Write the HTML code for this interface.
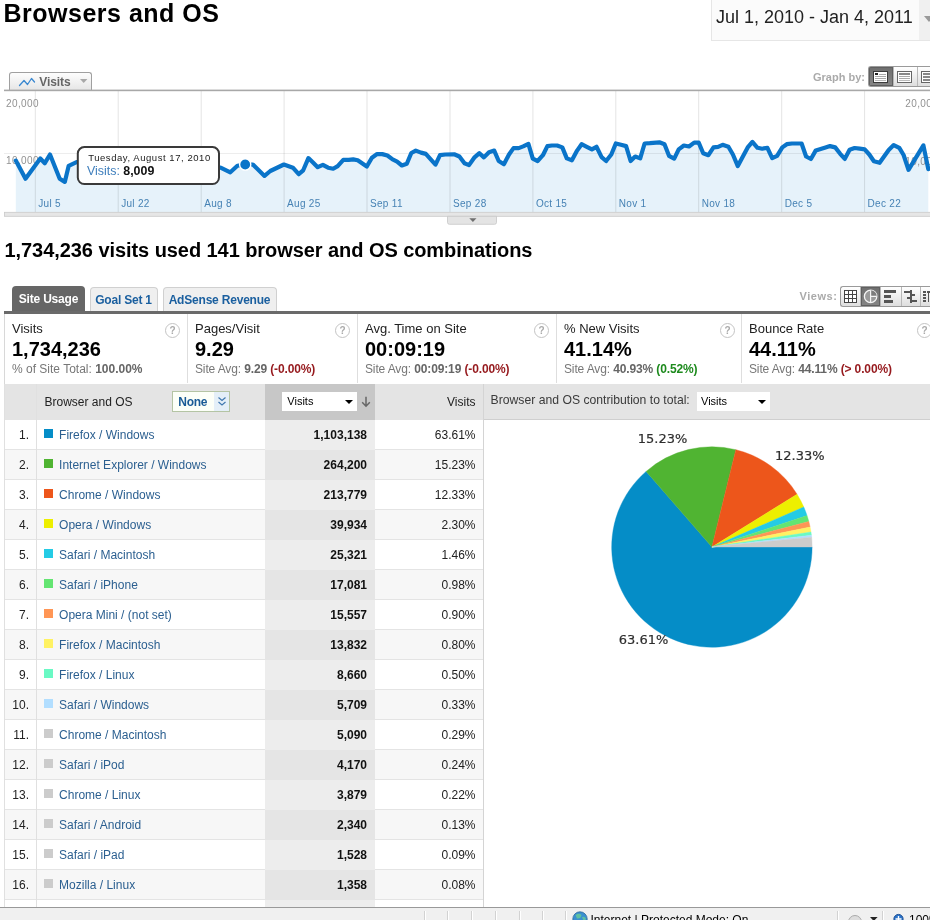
<!DOCTYPE html>
<html><head><meta charset="utf-8"><title>Browsers and OS</title>
<style>
html,body{margin:0;padding:0;background:#fff;}
body{width:930px;height:920px;position:relative;overflow:hidden;font-family:"Liberation Sans",Arial,sans-serif;color:#222;}
.abs{position:absolute;}
.t{position:absolute;white-space:nowrap;line-height:1;}
h1.t{margin:0;font-size:25px;font-weight:bold;color:#000;left:3.5px;top:0.5px;letter-spacing:0.5px;}
h2.t{margin:0;font-size:20px;font-weight:bold;color:#000;left:4.5px;top:239.5px;letter-spacing:-0.065px;}
.datebox{position:absolute;left:711px;top:-2px;width:230px;height:42.5px;background:#fbfbfb;border:1px solid #e6e6e6;box-sizing:border-box;}
.datebox .side{position:absolute;left:206.5px;top:0;width:30px;height:41px;background:#f0f0f0;}
.vtab{position:absolute;left:9px;top:72px;width:83px;height:18px;border:1px solid #a0a0a0;border-bottom:none;border-radius:3px 3px 0 0;box-sizing:border-box;background:linear-gradient(#fdfdfd,#e6e6e6);}
.tab{position:absolute;top:286.5px;height:25px;box-sizing:border-box;border-radius:4px 4px 0 0;font-size:12px;font-weight:bold;line-height:25px;text-align:center;white-space:nowrap;}
.tab.sel{left:12px;width:73px;background:#666;color:#fff;height:25.5px;top:286px;line-height:26px;letter-spacing:-0.2px;}
.tab.o{background:#efefef;border:1px solid #d0d0d0;border-bottom:none;color:#1a5f9f;line-height:24px;letter-spacing:-0.2px;}
.bar{position:absolute;left:4px;top:311px;width:930px;height:3px;background:#6a6a6a;}
.metrics{position:absolute;left:4px;top:314px;width:930px;height:70px;border-left:1px solid #d8d8d8;box-sizing:border-box;}
.m{position:absolute;top:0;height:69px;border-left:1px solid #dedede;}
.m .l{position:absolute;left:7px;top:8.4px;font-size:13px;line-height:14px;color:#222;white-space:nowrap;}
.m .b{position:absolute;left:7px;top:24px;font-size:20px;line-height:22px;font-weight:bold;color:#000;white-space:nowrap;}
.m .s{position:absolute;left:7px;top:48px;font-size:12px;line-height:14px;color:#777;white-space:nowrap;}
.m .s b{color:#666;}
.m .s .r{color:#961a1e;font-weight:bold;}
.m .s.n{letter-spacing:-0.13px;}
.m .s .g{color:#1d8a1d;font-weight:bold;}
.q{position:absolute;top:9px;width:13px;height:13px;border:1px solid #c4c4c4;border-radius:50%;box-sizing:content-box;font-size:10px;line-height:13px;text-align:center;color:#aaa;font-weight:bold;background:#fff;}
.th{position:absolute;top:383.5px;height:36px;background:#e4e4e4;}
.tr{position:absolute;left:4.5px;width:479px;height:30px;border-bottom:1px solid #e4e4e4;box-sizing:border-box;font-size:12px;line-height:30px;}
.tr.even{background:#f7f7f7;}
.tr .num{position:absolute;left:0;width:24.5px;text-align:right;color:#222;}
.tr .sq{position:absolute;left:39.5px;top:9.7px;width:9px;height:9px;}
.tr .nm{position:absolute;left:54.6px;color:#2b5f90;white-space:nowrap;}
.tr .sc{position:absolute;left:260.8px;top:0;width:109.7px;height:30px;background:#ededed;}
.tr.even .sc{background:#e5e5e5;}
.tr .v{position:absolute;right:116.5px;font-weight:bold;color:#111;}
.tr .p{position:absolute;right:8px;color:#222;}
.vl{position:absolute;width:1px;background:#e0e0e0;}
.status{position:absolute;left:0;top:906.5px;width:930px;height:14px;background:#f0f0f0;border-top:1px solid #999;}
.status i{position:absolute;top:3px;width:1px;height:12px;background:#d2d2d2;border-right:1px solid #fff;}
.sel2{position:absolute;background:#fff;font-size:11px;line-height:19px;color:#000;box-sizing:border-box;padding-left:5px;}
.sel2:after{content:"";position:absolute;right:4px;top:8px;border:4px solid transparent;border-top:4px solid #000;border-bottom:none;}
.btns{position:absolute;border:1px solid #9a9a9a;border-right:none;border-radius:3px 0 0 3px;box-sizing:border-box;overflow:hidden;background:linear-gradient(#fff,#dedede);}
.btns .b{position:absolute;top:0;height:100%;box-sizing:border-box;border-right:1px solid #b8b8b8;}
.btns .b.on{background:linear-gradient(#6e6e6e,#868686);box-shadow:inset 0 0 0 1px #606060;}
</style></head>
<body>
<h1 class="t">Browsers and OS</h1>
<div class="datebox"><div class="side"></div>
<span class="t" style="left:4px;top:9px;font-size:18px;color:#222;">Jul 1, 2010 - Jan 4, 2011</span>
<svg class="abs" style="left:212px;top:17px" width="10" height="8"><polygon points="0,0 10,0 5,6" fill="#999"/></svg>
</div>

<!-- graph by -->
<span class="t" style="left:813px;top:72px;font-size:11px;font-weight:bold;color:#aaa;">Graph by:</span>
<div class="btns" style="left:868px;top:66px;width:70px;height:21px;">
 <div class="b on" style="left:0;width:24.5px"></div><div class="b" style="left:24.5px;width:24.5px"></div><div class="b" style="left:49px;width:24px"></div>
 <svg class="abs" style="left:-1px;top:-1px" width="70" height="21" viewBox="868 66 70 21" shape-rendering="crispEdges">
  <rect x="873.5" y="71.5" width="14" height="11" fill="#fff" stroke="#3c3c3c" stroke-width="1"/>
  <rect x="875" y="73" width="3" height="2" fill="#222"/><rect x="879" y="74" width="7" height="1" fill="#aaa"/><rect x="875" y="76" width="11" height="1" fill="#aaa"/><rect x="875" y="78" width="11" height="1" fill="#aaa"/><rect x="875" y="80" width="11" height="1" fill="#bbb"/>
  <rect x="897.5" y="71.5" width="14" height="11" fill="#fff" stroke="#666" stroke-width="1"/>
  <rect x="899" y="73" width="11" height="2" fill="#888"/><rect x="899" y="76" width="11" height="1" fill="#aaa"/><rect x="899" y="78" width="11" height="1" fill="#aaa"/><rect x="899" y="80" width="11" height="1" fill="#bbb"/>
  <rect x="921.5" y="71.5" width="14" height="11" fill="#fff" stroke="#666" stroke-width="1"/>
  <rect x="923" y="73" width="11" height="2" fill="#888"/><rect x="923" y="76" width="11" height="2" fill="#888"/><rect x="923" y="79" width="11" height="2" fill="#888"/>
 </svg>
</div>

<!-- visits tab -->
<div class="vtab">
 <svg class="abs" style="left:8px;top:3px" width="18" height="12" viewBox="0 0 18 12"><polyline points="1.5,9.5 6,4.5 9.5,8.5 13.5,2.5 16.5,6" fill="none" stroke="#3a88d0" stroke-width="1.3" stroke-linejoin="round" stroke-linecap="round"/></svg>
 <span class="t" style="left:29.3px;top:3px;font-size:12px;font-weight:bold;color:#666;letter-spacing:-0.1px;">Visits</span>
 <svg class="abs" style="left:69.5px;top:5.8px" width="8" height="5"><polygon points="0,0 7.4,0 3.7,4" fill="#a8a8a8"/></svg>
</div>

<svg class="abs" style="left:0;top:0" width="930" height="240" viewBox="0 0 930 240">
<polygon points="15.8,212 15.8,160.6 25.5,178.7 40.3,158.5 44.8,163.2 50.0,154.5 59.7,178.7 64.8,181.9 68.7,165.8 77.1,161.9 82.0,160.5 87.0,161.5 92.0,173.0 97.0,176.0 102.0,166.0 107.0,161.0 112.0,159.5 117.0,160.5 122.0,162.0 126.0,174.0 131.0,177.0 136.0,166.0 141.0,162.0 146.0,160.0 151.0,161.0 156.0,163.0 160.0,174.0 165.0,177.0 170.0,167.0 175.0,163.0 180.0,161.0 185.0,160.0 190.0,162.0 195.0,173.0 200.0,176.0 205.0,168.0 210.0,165.0 215.0,166.0 220.6,167.7 230.3,172.3 237.4,165.8 245.2,164.5 252.9,164.5 264.5,175.9 270.3,171.0 283.9,164.5 292.9,167.7 298.7,174.2 303.2,170.3 308.4,158.1 313.0,162.5 317.7,167.2 322.9,164.8 328.1,167.7 333.2,168.7 337.7,166.1 343.3,159.9 348.7,159.9 353.2,159.4 357.7,160.3 366.8,166.5 371.9,157.7 377.1,154.1 382.3,154.1 387.4,155.5 392.6,159.4 397.1,161.6 401.9,165.5 406.8,163.8 411.3,153.0 415.8,150.6 421.0,152.6 425.8,153.9 435.5,164.6 440.0,155.2 445.2,154.5 454.2,154.3 459.4,156.5 464.5,163.3 469.0,165.1 474.2,157.7 479.4,153.2 483.9,157.4 489.0,152.2 494.2,150.6 498.7,161.0 503.9,164.2 509.0,154.5 513.5,148.1 518.7,148.1 523.2,146.4 528.4,143.9 532.8,158.7 537.6,161.0 542.9,155.2 547.4,146.1 551.9,145.5 557.1,145.5 562.3,147.4 566.8,158.4 571.9,160.3 577.1,150.6 581.6,144.2 586.8,146.8 591.9,149.4 596.5,146.8 601.6,157.1 606.1,161.0 611.3,154.5 615.8,143.5 621.0,144.8 626.1,146.1 630.6,161.0 635.2,156.5 640.2,158.4 644.6,143.5 649.8,143.2 659.4,142.3 664.5,144.2 669.0,155.8 674.2,158.6 678.7,149.4 683.9,145.5 689.0,146.5 694.2,142.6 698.7,142.6 703.2,153.2 708.4,155.2 713.5,147.4 718.1,146.8 722.6,144.8 728.4,146.8 732.9,154.5 737.8,166.1 742.6,157.1 747.7,147.4 752.4,141.9 757.5,147.8 762.3,148.7 767.4,147.8 772.2,158.1 777.1,155.8 782.3,147.4 786.8,144.2 791.9,143.5 801.6,143.5 806.1,156.5 810.9,159.0 815.8,150.4 825.5,147.4 830.0,146.1 835.2,147.4 840.2,153.8 844.8,158.9 849.6,149.7 854.6,148.0 859.7,148.6 864.7,149.3 869.3,154.5 873.9,161.3 879.6,162.8 888.7,150.0 893.7,145.1 899.3,147.9 903.6,155.0 908.5,169.8 923.4,145.4 928.3,169.1 928.3,212" fill="#e6f2fa"/>
<rect x="34.8" y="91" width="1" height="121" fill="#000" fill-opacity="0.11"/>
<rect x="117.7" y="91" width="1" height="121" fill="#000" fill-opacity="0.11"/>
<rect x="200.7" y="91" width="1" height="121" fill="#000" fill-opacity="0.11"/>
<rect x="283.6" y="91" width="1" height="121" fill="#000" fill-opacity="0.11"/>
<rect x="366.5" y="91" width="1" height="121" fill="#000" fill-opacity="0.11"/>
<rect x="449.5" y="91" width="1" height="121" fill="#000" fill-opacity="0.11"/>
<rect x="532.4" y="91" width="1" height="121" fill="#000" fill-opacity="0.11"/>
<rect x="615.3" y="91" width="1" height="121" fill="#000" fill-opacity="0.11"/>
<rect x="698.2" y="91" width="1" height="121" fill="#000" fill-opacity="0.11"/>
<rect x="781.2" y="91" width="1" height="121" fill="#000" fill-opacity="0.11"/>
<rect x="864.1" y="91" width="1" height="121" fill="#000" fill-opacity="0.11"/>
<rect x="4" y="153" width="926" height="1" fill="#000" fill-opacity="0.07"/>
<g font-family="Liberation Sans, Arial, sans-serif" font-size="10" fill="#929292" letter-spacing="0.38">
<text x="6" y="107">20,000</text><text x="6" y="164.3">10,000</text>
<text x="905.3" y="107">20,000</text><text x="905.3" y="164.5">10,000</text></g>
<g font-family="Liberation Sans, Arial, sans-serif" font-size="10" fill="#4682b4" letter-spacing="0.3">
<text x="38.3" y="206.8">Jul 5</text>
<text x="121.2" y="206.8">Jul 22</text>
<text x="204.2" y="206.8">Aug 8</text>
<text x="287.1" y="206.8">Aug 25</text>
<text x="370.0" y="206.8">Sep 11</text>
<text x="453.0" y="206.8">Sep 28</text>
<text x="535.9" y="206.8">Oct 15</text>
<text x="618.8" y="206.8">Nov 1</text>
<text x="701.7" y="206.8">Nov 18</text>
<text x="784.7" y="206.8">Dec 5</text>
<text x="867.6" y="206.8">Dec 22</text>
</g>
<polyline points="15.8,160.6 25.5,178.7 40.3,158.5 44.8,163.2 50.0,154.5 59.7,178.7 64.8,181.9 68.7,165.8 77.1,161.9 82.0,160.5 87.0,161.5 92.0,173.0 97.0,176.0 102.0,166.0 107.0,161.0 112.0,159.5 117.0,160.5 122.0,162.0 126.0,174.0 131.0,177.0 136.0,166.0 141.0,162.0 146.0,160.0 151.0,161.0 156.0,163.0 160.0,174.0 165.0,177.0 170.0,167.0 175.0,163.0 180.0,161.0 185.0,160.0 190.0,162.0 195.0,173.0 200.0,176.0 205.0,168.0 210.0,165.0 215.0,166.0 220.6,167.7 230.3,172.3 237.4,165.8 245.2,164.5 252.9,164.5 264.5,175.9 270.3,171.0 283.9,164.5 292.9,167.7 298.7,174.2 303.2,170.3 308.4,158.1 313.0,162.5 317.7,167.2 322.9,164.8 328.1,167.7 333.2,168.7 337.7,166.1 343.3,159.9 348.7,159.9 353.2,159.4 357.7,160.3 366.8,166.5 371.9,157.7 377.1,154.1 382.3,154.1 387.4,155.5 392.6,159.4 397.1,161.6 401.9,165.5 406.8,163.8 411.3,153.0 415.8,150.6 421.0,152.6 425.8,153.9 435.5,164.6 440.0,155.2 445.2,154.5 454.2,154.3 459.4,156.5 464.5,163.3 469.0,165.1 474.2,157.7 479.4,153.2 483.9,157.4 489.0,152.2 494.2,150.6 498.7,161.0 503.9,164.2 509.0,154.5 513.5,148.1 518.7,148.1 523.2,146.4 528.4,143.9 532.8,158.7 537.6,161.0 542.9,155.2 547.4,146.1 551.9,145.5 557.1,145.5 562.3,147.4 566.8,158.4 571.9,160.3 577.1,150.6 581.6,144.2 586.8,146.8 591.9,149.4 596.5,146.8 601.6,157.1 606.1,161.0 611.3,154.5 615.8,143.5 621.0,144.8 626.1,146.1 630.6,161.0 635.2,156.5 640.2,158.4 644.6,143.5 649.8,143.2 659.4,142.3 664.5,144.2 669.0,155.8 674.2,158.6 678.7,149.4 683.9,145.5 689.0,146.5 694.2,142.6 698.7,142.6 703.2,153.2 708.4,155.2 713.5,147.4 718.1,146.8 722.6,144.8 728.4,146.8 732.9,154.5 737.8,166.1 742.6,157.1 747.7,147.4 752.4,141.9 757.5,147.8 762.3,148.7 767.4,147.8 772.2,158.1 777.1,155.8 782.3,147.4 786.8,144.2 791.9,143.5 801.6,143.5 806.1,156.5 810.9,159.0 815.8,150.4 825.5,147.4 830.0,146.1 835.2,147.4 840.2,153.8 844.8,158.9 849.6,149.7 854.6,148.0 859.7,148.6 864.7,149.3 869.3,154.5 873.9,161.3 879.6,162.8 888.7,150.0 893.7,145.1 899.3,147.9 903.6,155.0 908.5,169.8 923.4,145.4 928.3,169.1" fill="none" stroke="#0a74c9" stroke-width="4.2" stroke-linejoin="round" stroke-linecap="round"/>
<circle cx="245.2" cy="164.5" r="5.6" fill="#0a74c9" stroke="#fff" stroke-width="1.4"/>
<rect x="4" y="89.6" width="926" height="1.6" fill="#a8a8a8"/>
<rect x="4.5" y="212.3" width="930" height="4" fill="#e6e6e6" stroke="#c9c9c9" stroke-width="0.8"/>
<path d="M447.5 216.3 V222.5 Q447.5 224.3 449.5 224.3 H494.5 Q496.5 224.3 496.5 222.5 V216.3 Z" fill="#e4e4e4" stroke="#c6c6c6" stroke-width="0.8"/>
<polygon points="469.3,218.2 476.5,218.2 472.9,222" fill="#707070"/>
<rect x="77.8" y="147.1" width="141.2" height="36.9" rx="6.5" ry="6.5" fill="#fff" stroke="#3a3a3a" stroke-width="2"/>
<text x="88.2" y="160.9" font-family="Liberation Sans, Arial, sans-serif" font-size="9.5" fill="#222" letter-spacing="0.55">Tuesday, August 17, 2010</text>
<text x="87" y="175.3" font-family="Liberation Sans, Arial, sans-serif" font-size="12.4" fill="#3f7fbd">Visits: <tspan fill="#111" font-weight="bold">8,009</tspan></text>
</svg>

<h2 class="t">1,734,236 visits used 141 browser and OS combinations</h2>

<div class="tab sel">Site Usage</div>
<div class="tab o" style="left:89.5px;width:68px;">Goal Set 1</div>
<div class="tab o" style="left:162.5px;width:114px;">AdSense Revenue</div>
<div class="bar"></div>

<span class="t" style="left:799.5px;top:291px;font-size:11px;font-weight:bold;color:#aaa;letter-spacing:0.55px;">Views:</span>
<div class="btns" style="left:840px;top:286px;width:96px;height:21px;">
 <div class="b" style="left:0;width:20px"></div><div class="b on" style="left:20px;width:20px"></div><div class="b" style="left:40px;width:20.5px"></div><div class="b" style="left:60.5px;width:19.5px"></div>
 <svg class="abs" style="left:-1px;top:-1px" width="96" height="21" viewBox="840 286 96 21">
  <g fill="#444" shape-rendering="crispEdges"><rect x="844" y="290" width="13" height="1"/><rect x="844" y="294" width="13" height="1"/><rect x="844" y="298" width="13" height="1"/><rect x="844" y="302" width="13" height="1"/><rect x="844" y="290" width="1" height="13"/><rect x="848" y="290" width="1" height="13"/><rect x="852" y="290" width="1" height="13"/><rect x="856" y="290" width="1" height="13"/></g>
  <g fill="#fff" shape-rendering="crispEdges"><rect x="845" y="291" width="3" height="3"/><rect x="849" y="291" width="3" height="3"/><rect x="853" y="291" width="3" height="3"/><rect x="845" y="295" width="3" height="3"/><rect x="849" y="295" width="3" height="3"/><rect x="853" y="295" width="3" height="3"/><rect x="845" y="299" width="3" height="3"/><rect x="849" y="299" width="3" height="3"/><rect x="853" y="299" width="3" height="3"/></g>
  <circle cx="870.6" cy="296.4" r="6.2" fill="#9a9a9a" stroke="#f4f4f4" stroke-width="1.3"/><path d="M870.6 296.4V290.2A6.2 6.2 0 0 1 876.8 296.4Z" fill="#7c7c7c"/><path d="M870.6 290.2V302.6M870.6 296.4H876.8" stroke="#f4f4f4" stroke-width="1.2" fill="none"/>
  <g fill="#555" shape-rendering="crispEdges"><rect x="884" y="290" width="12" height="3"/><rect x="884" y="295" width="7" height="3"/><rect x="884" y="300" width="9" height="3"/></g>
  <g fill="#555" shape-rendering="crispEdges"><rect x="904" y="291" width="7" height="2"/><rect x="910" y="290" width="2" height="13"/><rect x="911" y="294" width="4" height="2"/><rect x="907" y="297" width="4" height="2"/><rect x="911" y="300" width="6" height="2"/></g>
  <g fill="#555" shape-rendering="crispEdges"><rect x="923" y="291" width="3" height="2"/><rect x="923" y="294" width="3" height="2"/><rect x="923" y="297" width="3" height="2"/><rect x="923" y="300" width="3" height="2"/><rect x="927" y="291" width="4" height="2"/><rect x="928" y="293" width="1" height="9"/></g>
 </svg>
</div>

<div class="metrics">
 <div class="m" style="left:0;width:183px;border-left:none"><span class="l">Visits</span><span class="b">1,734,236</span><span class="s">% of Site Total: <b>100.00%</b></span><span class="q" style="left:160px">?</span></div>
 <div class="m" style="left:182px;width:170px"><span class="l">Pages/Visit</span><span class="b">9.29</span><span class="s n">Site Avg: <b>9.29</b> <span class="r">(-0.00%)</span></span><span class="q" style="left:147px">?</span></div>
 <div class="m" style="left:352px;width:198.5px"><span class="l">Avg. Time on Site</span><span class="b">00:09:19</span><span class="s n">Site Avg: <b>00:09:19</b> <span class="r">(-0.00%)</span></span><span class="q" style="left:176px">?</span></div>
 <div class="m" style="left:551px;width:185.5px"><span class="l">% New Visits</span><span class="b">41.14%</span><span class="s n">Site Avg: <b>40.93%</b> <span class="g">(0.52%)</span></span><span class="q" style="left:163px">?</span></div>
 <div class="m" style="left:736px;width:200px"><span class="l">Bounce Rate</span><span class="b">44.11%</span><span class="s n">Site Avg: <b>44.11%</b> <span class="r">(&gt; 0.00%)</span></span><span class="q" style="left:175px">?</span></div>
</div>

<!-- table header -->
<div class="th" style="left:4.5px;width:930px;"></div>
<div class="th" style="left:265.3px;width:109.7px;background:#c7c7c7;"></div>
<span class="t" style="left:44.5px;top:395.5px;font-size:12px;color:#222;">Browser and OS</span>
<div class="abs" style="left:172px;top:391px;width:57.5px;height:21px;box-sizing:border-box;border:1px solid #b4c4a4;background:#fcfff8;">
 <div class="abs" style="left:40.5px;top:0;width:15px;height:19px;background:#e4eff8;"></div>
 <span class="t" style="left:5.3px;top:3.5px;font-size:12px;font-weight:bold;color:#1a5b96;letter-spacing:-0.3px;">None</span>
 <svg class="abs" style="left:43.5px;top:4px" width="10" height="11" viewBox="0 0 10 11"><path d="M1.5 1.5L5 4.5L8.5 1.5M1.5 6L5 9L8.5 6" fill="none" stroke="#3f78b0" stroke-width="1.2"/></svg>
</div>
<div class="sel2" style="left:282.3px;top:391.6px;width:74.4px;height:19px;">Visits</div>
<svg class="abs" style="left:361px;top:396px" width="10" height="12" viewBox="0 0 10 12"><path d="M5 0.8V10M1.2 6.2L5 10.2L8.8 6.2" fill="none" stroke="#666" stroke-width="1.5"/></svg>
<span class="t" style="right:454.5px;top:395.5px;font-size:12px;color:#222;">Visits</span>
<span class="t" style="left:490.6px;top:393.9px;font-size:12.2px;color:#3a3a3a;">Browser and OS contribution to total:</span>
<div class="sel2" style="left:697px;top:392px;width:73px;height:18.5px;font-size:11px;padding-left:4px;">Visits</div>

<div class="tr odd" style="top:419.5px"><span class="num">1.</span><i class="sq" style="background:#058dc7"></i><span class="nm">Firefox / Windows</span><span class="sc"></span><span class="v">1,103,138</span><span class="p">63.61%</span></div>
<div class="tr even" style="top:449.5px"><span class="num">2.</span><i class="sq" style="background:#50b432"></i><span class="nm">Internet Explorer / Windows</span><span class="sc"></span><span class="v">264,200</span><span class="p">15.23%</span></div>
<div class="tr odd" style="top:479.5px"><span class="num">3.</span><i class="sq" style="background:#ed561b"></i><span class="nm">Chrome / Windows</span><span class="sc"></span><span class="v">213,779</span><span class="p">12.33%</span></div>
<div class="tr even" style="top:509.5px"><span class="num">4.</span><i class="sq" style="background:#edef00"></i><span class="nm">Opera / Windows</span><span class="sc"></span><span class="v">39,934</span><span class="p">2.30%</span></div>
<div class="tr odd" style="top:539.5px"><span class="num">5.</span><i class="sq" style="background:#24cbe5"></i><span class="nm">Safari / Macintosh</span><span class="sc"></span><span class="v">25,321</span><span class="p">1.46%</span></div>
<div class="tr even" style="top:569.5px"><span class="num">6.</span><i class="sq" style="background:#64e572"></i><span class="nm">Safari / iPhone</span><span class="sc"></span><span class="v">17,081</span><span class="p">0.98%</span></div>
<div class="tr odd" style="top:599.5px"><span class="num">7.</span><i class="sq" style="background:#ff9655"></i><span class="nm">Opera Mini / (not set)</span><span class="sc"></span><span class="v">15,557</span><span class="p">0.90%</span></div>
<div class="tr even" style="top:629.5px"><span class="num">8.</span><i class="sq" style="background:#fff263"></i><span class="nm">Firefox / Macintosh</span><span class="sc"></span><span class="v">13,832</span><span class="p">0.80%</span></div>
<div class="tr odd" style="top:659.5px"><span class="num">9.</span><i class="sq" style="background:#6af9c4"></i><span class="nm">Firefox / Linux</span><span class="sc"></span><span class="v">8,660</span><span class="p">0.50%</span></div>
<div class="tr even" style="top:689.5px"><span class="num">10.</span><i class="sq" style="background:#b2deff"></i><span class="nm">Safari / Windows</span><span class="sc"></span><span class="v">5,709</span><span class="p">0.33%</span></div>
<div class="tr odd" style="top:719.5px"><span class="num">11.</span><i class="sq" style="background:#cccccc"></i><span class="nm">Chrome / Macintosh</span><span class="sc"></span><span class="v">5,090</span><span class="p">0.29%</span></div>
<div class="tr even" style="top:749.5px"><span class="num">12.</span><i class="sq" style="background:#cccccc"></i><span class="nm">Safari / iPod</span><span class="sc"></span><span class="v">4,170</span><span class="p">0.24%</span></div>
<div class="tr odd" style="top:779.5px"><span class="num">13.</span><i class="sq" style="background:#cccccc"></i><span class="nm">Chrome / Linux</span><span class="sc"></span><span class="v">3,879</span><span class="p">0.22%</span></div>
<div class="tr even" style="top:809.5px"><span class="num">14.</span><i class="sq" style="background:#cccccc"></i><span class="nm">Safari / Android</span><span class="sc"></span><span class="v">2,340</span><span class="p">0.13%</span></div>
<div class="tr odd" style="top:839.5px"><span class="num">15.</span><i class="sq" style="background:#cccccc"></i><span class="nm">Safari / iPad</span><span class="sc"></span><span class="v">1,528</span><span class="p">0.09%</span></div>
<div class="tr even" style="top:869.5px"><span class="num">16.</span><i class="sq" style="background:#cccccc"></i><span class="nm">Mozilla / Linux</span><span class="sc"></span><span class="v">1,358</span><span class="p">0.08%</span></div>
<div class="tr odd" style="top:899.5px"><span class="num"></span><i class="sq" style="background:#cccccc"></i><span class="nm"></span><span class="sc"></span><span class="v"></span><span class="p"></span></div>

<div class="vl" style="left:4px;top:384px;height:523px;"></div>
<div class="vl" style="left:36px;top:384px;height:523px;"></div>
<div class="vl" style="left:483px;top:384px;height:523px;background:#d4d4d4"></div>
<div class="abs" style="left:484px;top:419px;width:446px;height:1px;background:#cfcfcf;"></div>

<svg class="abs" style="left:0;top:420px" width="930" height="300" viewBox="0 420 930 300">
<path d="M711.9 547 L812.10 547.00 A100.2 100.2 0 1 1 646.16 471.38 Z" fill="#058dc7" stroke="#058dc7" stroke-width="0.4"/>
<path d="M711.9 547 L646.16 471.38 A100.2 100.2 0 0 1 735.84 449.70 Z" fill="#50b432" stroke="#50b432" stroke-width="0.4"/>
<path d="M711.9 547 L735.84 449.70 A100.2 100.2 0 0 1 797.07 494.22 Z" fill="#ed561b" stroke="#ed561b" stroke-width="0.4"/>
<path d="M711.9 547 L797.07 494.22 A100.2 100.2 0 0 1 803.78 507.03 Z" fill="#edef00" stroke="#edef00" stroke-width="0.4"/>
<path d="M711.9 547 L803.78 507.03 A100.2 100.2 0 0 1 807.06 515.62 Z" fill="#24cbe5" stroke="#24cbe5" stroke-width="0.4"/>
<path d="M711.9 547 L807.06 515.62 A100.2 100.2 0 0 1 808.81 521.53 Z" fill="#64e572" stroke="#64e572" stroke-width="0.4"/>
<path d="M711.9 547 L808.81 521.53 A100.2 100.2 0 0 1 810.09 527.05 Z" fill="#ff9655" stroke="#ff9655" stroke-width="0.4"/>
<path d="M711.9 547 L810.09 527.05 A100.2 100.2 0 0 1 810.97 532.01 Z" fill="#fff263" stroke="#fff263" stroke-width="0.4"/>
<path d="M711.9 547 L810.97 532.01 A100.2 100.2 0 0 1 811.39 535.13 Z" fill="#6af9c4" stroke="#6af9c4" stroke-width="0.4"/>
<path d="M711.9 547 L811.39 535.13 A100.2 100.2 0 0 1 811.62 537.19 Z" fill="#b2deff" stroke="#b2deff" stroke-width="0.4"/>
<path d="M711.9 547 L811.62 537.19 A100.2 100.2 0 0 1 812.10 547.00 Z" fill="#cccccc" stroke="#cccccc" stroke-width="0.4"/>
<g font-family="DejaVu Sans, Verdana, sans-serif" font-size="11.4" fill="#2e2e2e" stroke="#2e2e2e" stroke-width="0.18">
<text transform="translate(637.8,442.8) scale(1.14,1)">15.23%</text>
<text transform="translate(775.0,459.6) scale(1.14,1)">12.33%</text>
<text transform="translate(618.8,643.8) scale(1.14,1)">63.61%</text>
</g>
</svg>

<div class="status">
 <i style="left:424px"></i><i style="left:447px"></i><i style="left:471px"></i><i style="left:495px"></i><i style="left:519px"></i><i style="left:542px"></i><i style="left:565px"></i><i style="left:837px"></i><i style="left:882px"></i>
 <svg class="abs" style="left:572px;top:3.4px" width="16" height="12" viewBox="0 0 16 12"><circle cx="8" cy="8" r="7.2" fill="#3a8fd0" stroke="#2a6a9a" stroke-width="0.8"/><path d="M3.5 4Q7 1.5 9.5 4Q9 8 5 7.5Z" fill="#5fc0a0"/><path d="M10 6Q13 5 14 8L12 11Z" fill="#5fc0a0"/></svg>
 <span class="t" style="left:590.5px;top:6.8px;font-size:12px;color:#000;">Internet | Protected Mode: On</span>
 <svg class="abs" style="left:848px;top:6px" width="16" height="10" viewBox="0 0 16 10"><circle cx="7" cy="8" r="6.5" fill="#ddd" stroke="#aaa"/></svg>
 <svg class="abs" style="left:870px;top:9.5px" width="8" height="5"><polygon points="0,0 7.6,0 3.8,4" fill="#222"/></svg>
 <svg class="abs" style="left:893px;top:5px" width="12" height="10" viewBox="0 0 12 10"><circle cx="5.5" cy="6" r="4.6" fill="#2a72c8" stroke="#1c4f94"/><path d="M5.5 3V9M2.5 6H8.5" stroke="#fff" stroke-width="1.4"/></svg>
 <span class="t" style="left:909px;top:6.8px;font-size:12px;color:#000;">100%</span>
</div>
</body></html>
